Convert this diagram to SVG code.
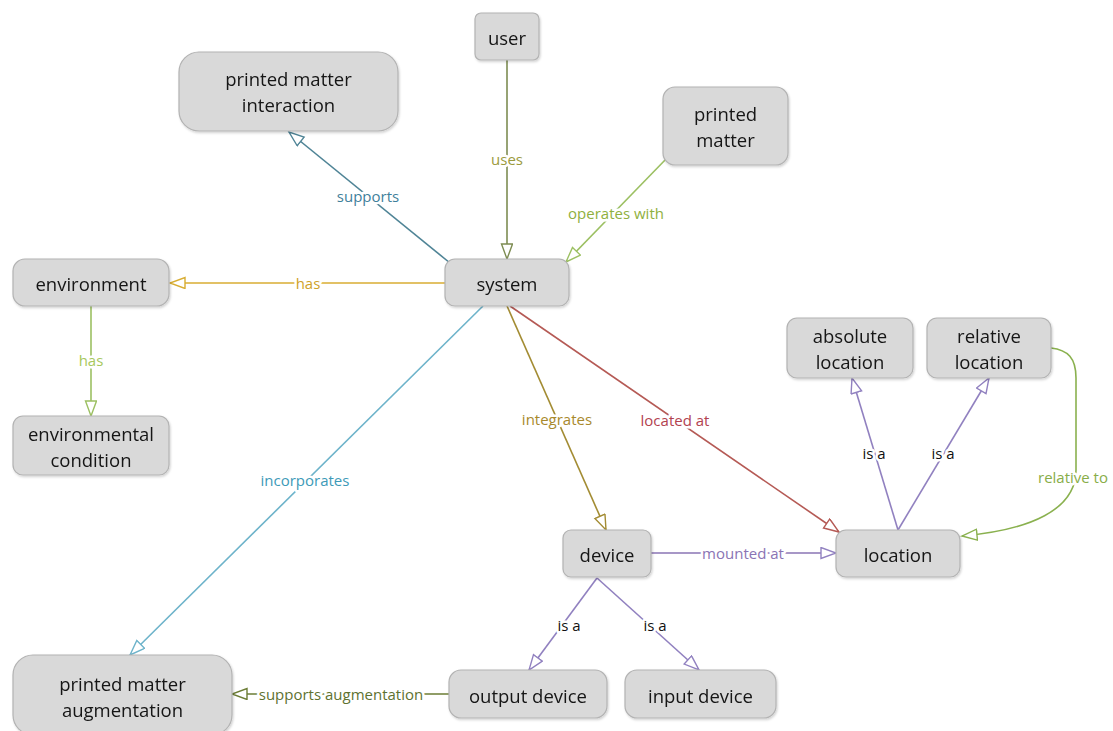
<svg xmlns="http://www.w3.org/2000/svg" width="1113" height="731" viewBox="0 0 1113 731">
<style>
.n rect{fill:#d9d9d9;stroke:#b3b3b3;stroke-width:1.2}
.n text{font-family:"Open Sans","Noto Sans",sans-serif;font-size:18.5px;fill:#151515;text-anchor:middle;dominant-baseline:central}
.e path{fill:none;stroke-width:1.6}
.l{font-family:"Open Sans","Noto Sans",sans-serif;font-size:15px;text-anchor:middle;dominant-baseline:central;stroke:#fff;stroke-width:5;paint-order:stroke;stroke-linejoin:round}
</style>
<defs>
<filter id="sh" x="-10%" y="-10%" width="130%" height="140%"><feDropShadow dx="1" dy="1.5" stdDeviation="1.2" flood-color="#000" flood-opacity="0.18"/></filter>
<marker id="aOl" markerUnits="userSpaceOnUse" markerWidth="18" markerHeight="14" refX="16" refY="6" orient="auto"><path d="M1,0.5 L16,6 L1,11.5 z" fill="#fff" stroke="#7d8c52" stroke-width="1.4"/></marker>
<marker id="aTe" markerUnits="userSpaceOnUse" markerWidth="18" markerHeight="14" refX="16" refY="6" orient="auto"><path d="M1,0.5 L16,6 L1,11.5 z" fill="#fff" stroke="#4f8496" stroke-width="1.4"/></marker>
<marker id="aGo" markerUnits="userSpaceOnUse" markerWidth="18" markerHeight="14" refX="16" refY="6" orient="auto"><path d="M1,0.5 L16,6 L1,11.5 z" fill="#fff" stroke="#d8ad32" stroke-width="1.4"/></marker>
<marker id="aLg" markerUnits="userSpaceOnUse" markerWidth="18" markerHeight="14" refX="16" refY="6" orient="auto"><path d="M1,0.5 L16,6 L1,11.5 z" fill="#fff" stroke="#9cc062" stroke-width="1.4"/></marker>
<marker id="aLb" markerUnits="userSpaceOnUse" markerWidth="18" markerHeight="14" refX="16" refY="6" orient="auto"><path d="M1,0.5 L16,6 L1,11.5 z" fill="#fff" stroke="#6db3ca" stroke-width="1.4"/></marker>
<marker id="aDg" markerUnits="userSpaceOnUse" markerWidth="18" markerHeight="14" refX="16" refY="6" orient="auto"><path d="M1,0.5 L16,6 L1,11.5 z" fill="#fff" stroke="#a38c33" stroke-width="1.4"/></marker>
<marker id="aRe" markerUnits="userSpaceOnUse" markerWidth="18" markerHeight="14" refX="16" refY="6" orient="auto"><path d="M1,0.5 L16,6 L1,11.5 z" fill="#fff" stroke="#b55a55" stroke-width="1.4"/></marker>
<marker id="aPu" markerUnits="userSpaceOnUse" markerWidth="18" markerHeight="14" refX="16" refY="6" orient="auto"><path d="M1,0.5 L16,6 L1,11.5 z" fill="#fff" stroke="#9181c0" stroke-width="1.4"/></marker>
<marker id="aGr" markerUnits="userSpaceOnUse" markerWidth="18" markerHeight="14" refX="16" refY="6" orient="auto"><path d="M1,0.5 L16,6 L1,11.5 z" fill="#fff" stroke="#8ab14f" stroke-width="1.4"/></marker>
<marker id="aDo" markerUnits="userSpaceOnUse" markerWidth="18" markerHeight="14" refX="16" refY="6" orient="auto"><path d="M1,0.5 L16,6 L1,11.5 z" fill="#fff" stroke="#6b7c34" stroke-width="1.4"/></marker>
</defs>
<rect width="1113" height="731" fill="#fff"/>
<g id="connectors" class="e">
<path d="M507,60 L507,259" stroke="#7d8c52" marker-end="url(#aOl)"/>
<path d="M450,263 L289,132" stroke="#4f8496" marker-end="url(#aTe)"/>
<path d="M445,283 L170,283" stroke="#d8ad32" stroke-width="2.2" marker-end="url(#aGo)"/>
<path d="M667,158 L566,262" stroke="#9cc062" marker-end="url(#aLg)"/>
<path d="M91,306 L91,416" stroke="#9cc062" marker-end="url(#aLg)"/>
<path d="M483,306 L130,655" stroke="#6db3ca" marker-end="url(#aLb)"/>
<path d="M507,306 L606,530" stroke="#a38c33" marker-end="url(#aDg)"/>
<path d="M510,306 L839,532" stroke="#b55a55" marker-end="url(#aRe)"/>
<path d="M651,553 L836,553" stroke="#8a74b4" marker-end="url(#aPu)"/>
<path d="M898,530 L852,378" stroke="#9181c0" marker-end="url(#aPu)"/>
<path d="M898,530 L989,378" stroke="#9181c0" marker-end="url(#aPu)"/>
<path d="M1051,348 C1068,350 1076,358 1076,378 L1076,470 C1076,510 1030,530 962,536" stroke="#8ab14f" marker-end="url(#aGr)"/>
<path d="M597,578 L529,670" stroke="#9181c0" marker-end="url(#aPu)"/>
<path d="M597,578 L699,670" stroke="#9181c0" marker-end="url(#aPu)"/>
<path d="M449,694 L232,694" stroke="#6b7c34" marker-end="url(#aDo)"/>
</g>
<g id="labels">
<text class="l" x="507" y="159" fill="#9b9a3c">uses</text>
<text class="l" x="368" y="196" fill="#3f7f9b">supports</text>
<text class="l" x="308" y="283" fill="#cfa22a">has</text>
<text class="l" x="616" y="213" fill="#8fb040">operates with</text>
<text class="l" x="91" y="360" fill="#a7c85c">has</text>
<text class="l" x="305" y="480" fill="#3d9ab8">incorporates</text>
<text class="l" x="557" y="419" fill="#a8892c">integrates</text>
<text class="l" x="675" y="420" fill="#b2424f">located at</text>
<text class="l" x="743" y="553" fill="#8a74b4">mounted at</text>
<text class="l" x="874" y="453" fill="#111">is a</text>
<text class="l" x="943" y="453" fill="#111">is a</text>
<text class="l" x="1073" y="477" fill="#88ad48">relative to</text>
<text class="l" x="569" y="625" fill="#111">is a</text>
<text class="l" x="655" y="625" fill="#111">is a</text>
<text class="l" x="341" y="694" fill="#5e7230">supports augmentation</text>
</g>
<g id="user" class="n" filter="url(#sh)"><rect x="475" y="13" width="64" height="47" rx="6"/><text x="507" y="37">user</text></g>
<g id="printed-matter-interaction" class="n" filter="url(#sh)"><rect x="179" y="52" width="219" height="79" rx="20"/><text x="288.5" y="78">printed matter</text><text x="288.5" y="104">interaction</text></g>
<g id="printed-matter" class="n" filter="url(#sh)"><rect x="663" y="87" width="125" height="78" rx="12"/><text x="725.5" y="113">printed</text><text x="725.5" y="139">matter</text></g>
<g id="system" class="n" filter="url(#sh)"><rect x="445" y="259" width="124" height="47" rx="10"/><text x="507" y="283">system</text></g>
<g id="environment" class="n" filter="url(#sh)"><rect x="13" y="259" width="156" height="47" rx="12"/><text x="91" y="283">environment</text></g>
<g id="environmental-condition" class="n" filter="url(#sh)"><rect x="13" y="416" width="156" height="59" rx="10"/><text x="91" y="433">environmental</text><text x="91" y="459">condition</text></g>
<g id="absolute-location" class="n" filter="url(#sh)"><rect x="787" y="318" width="126" height="60" rx="10"/><text x="850" y="335">absolute</text><text x="850" y="361">location</text></g>
<g id="relative-location" class="n" filter="url(#sh)"><rect x="927" y="318" width="124" height="60" rx="10"/><text x="989" y="335">relative</text><text x="989" y="361">location</text></g>
<g id="device" class="n" filter="url(#sh)"><rect x="563" y="530" width="88" height="47" rx="8"/><text x="607" y="554">device</text></g>
<g id="location" class="n" filter="url(#sh)"><rect x="836" y="530" width="124" height="47" rx="10"/><text x="898" y="554">location</text></g>
<g id="printed-matter-augmentation" class="n" filter="url(#sh)"><rect x="13" y="655" width="219" height="80" rx="20"/><text x="122.5" y="683">printed matter</text><text x="122.5" y="709">augmentation</text></g>
<g id="output-device" class="n" filter="url(#sh)"><rect x="449" y="670" width="158" height="48" rx="12"/><text x="528" y="695">output device</text></g>
<g id="input-device" class="n" filter="url(#sh)"><rect x="625" y="670" width="151" height="48" rx="12"/><text x="700.5" y="695">input device</text></g>
</svg>
